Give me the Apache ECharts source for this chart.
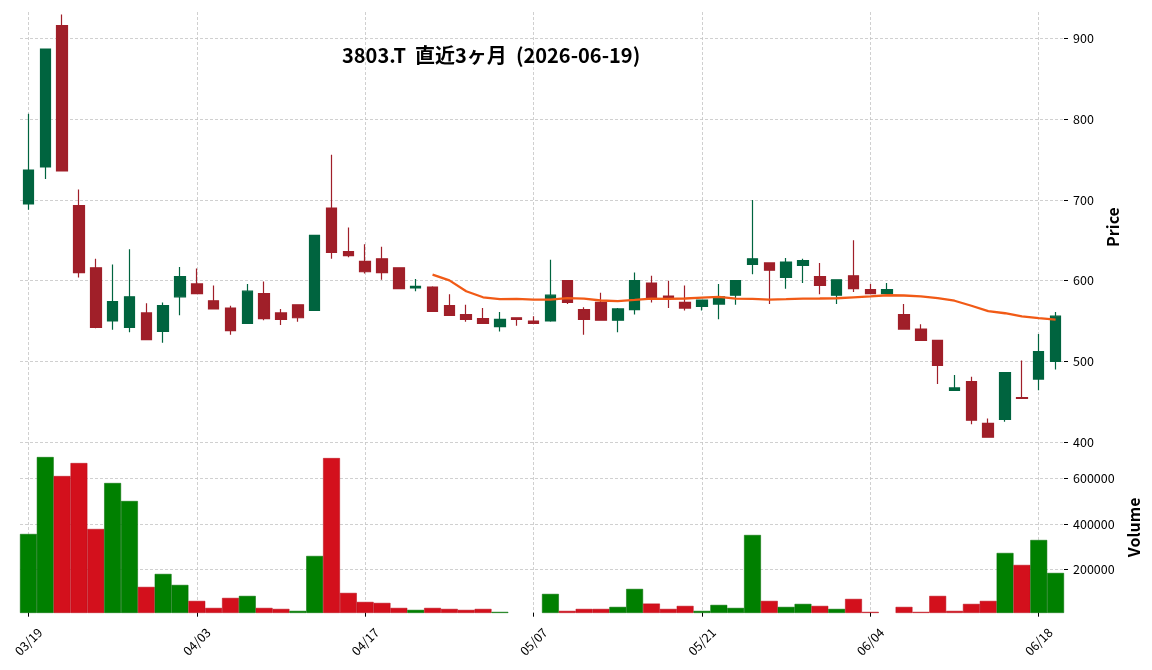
<!DOCTYPE html>
<html>
<head>
<meta charset="utf-8">
<title>3803.T</title>
<script src="https://cdn.jsdelivr.net/npm/echarts@6/dist/echarts.min.js"></script>
<style>
html, body { margin: 0; padding: 0; background: #fff; }
#main { width: 1152px; height: 670px; }
</style>
</head>
<body>
<div id="main"></div>
<script>
var dates = ['03/19','03/23','03/24','03/25','03/26','03/27','03/30','03/31','04/01','04/02',
  '04/03','04/06','04/07','04/08','04/09','04/10','04/13','04/14','04/15','04/16',
  '04/17','04/20','04/21','04/22','04/23','04/24','04/27','04/28','04/30','05/01',
  '05/07','05/08','05/11','05/12','05/13','05/14','05/15','05/18','05/19','05/20',
  '05/21','05/22','05/25','05/26','05/27','05/28','05/29','06/01','06/02','06/03',
  '06/04','06/05','06/08','06/09','06/10','06/11','06/12','06/15','06/16','06/17',
  '06/18','06/19'];
var opens = [695,741,916,693,616,550,542,560,537,580, 596,575,566,547,584,560,570,563,690,636,
  624,627,616,591,592,569,558,553,543,554, 550,550,600,564,573,551,564,597,581,573,
  568,571,582,620,622,604,619,605,582,606, 589,584,558,540,526,464,475,423,428,455, 478,500];
var highs = [807,887,930,713,627,620,639,572,573,617, 615,594,569,596,599,565,570,656,756,666,
  645,642,616,602,593,583,570,566,561,554, 556,626,600,567,585,566,610,606,600,594,
  576,596,600,700,622,628,627,622,601,650, 596,597,571,546,526,483,481,429,486,501, 534,561];
var lows = [688,726,736,604,541,539,536,526,523,557, 584,565,533,547,551,545,549,563,627,629,
  609,601,590,587,562,557,549,547,537,544, 547,549,571,533,551,536,558,573,566,563,
  563,552,570,608,571,590,597,583,571,586, 584,584,540,526,472,464,422,406,425,454, 464,490];
var closes = [737,887,736,610,542,574,580,527,569,605, 584,565,538,587,553,552,554,656,635,631,
  611,610,590,593,562,557,552,547,552,552, 547,582,573,552,551,565,600,579,578,566,
  576,580,600,627,613,623,625,594,601,590, 584,589,540,526,495,467,427,406,486,454, 512,556];
var volumes = [355300,693800,610200,667400,377300,579500,500300,122400,179500,131100,
  60800,30000,74000,82800,30000,25600,16900,258600,689300,96000,
  56400,52000,30000,21300,30000,25600,21300,25600,12500,5000,
  5000,91600,16900,25600,25600,34400,113600,49100,25600,38800,
  16900,43200,30000,350900,60800,34400,47600,38800,25600,69600,
  12500,5000,34400,12500,82800,16900,47600,60800,271800,219000,
  328900,183900];
// 25日移動平均
var ma25 = [null,null,null,null,null,null,null,null,null,null,
  null,null,null,null,null,null,null,null,null,null,
  null,null,null,null,607.5,600.3,586.9,579.4,577.0,577.4,
  576.4,576.4,578.3,577.6,575.4,574.7,576.1,577.7,577.4,577.9,
  578.9,579.9,577.7,577.4,576.6,577.1,577.7,577.9,578.2,579.3,
  580.4,581.9,581.6,580.6,578.3,575.1,568.9,562.2,559.6,555.7,
  553.6,551.8];
var priceTicks = [400,500,600,700,800,900];
var volTicks = [200000,400000,600000];

var upColor = '#00643f', downColor = '#a01f29';
var volUp = '#008000', volDown = '#d3101c';
var font = '"Noto Sans CJK JP", "Noto Sans", sans-serif';
var gridLine = { color: '#c4c4c4', type: [3, 2], width: 0.8 };

var candles = dates.map(function (d, i) {
  return [opens[i], closes[i], lows[i], highs[i]];
});
var vols = volumes.map(function (v, i) {
  var up = i === 0 ? closes[i] >= opens[i] : closes[i] >= closes[i - 1];
  return { value: v, itemStyle: { color: up ? volUp : volDown, borderColor: up ? '#006d00' : '#b80d18' } };
});

var chart = echarts.init(document.getElementById('main'));
chart.setOption({
  animation: false,
  backgroundColor: '#fff',
  title: {
    text: '3803.T  直近3ヶ月  (2026-06-19)',
    left: 342, top: 45, padding: 0,
    textStyle: { fontFamily: font, fontSize: 20, fontWeight: 'bold', color: '#000' }
  },
  grid: [
    { left: 20, right: 88, top: 12, height: 430 },
    { left: 20, right: 88, top: 442, height: 170.7 }
  ],
  xAxis: [
    {
      type: 'category', gridIndex: 0, data: dates,
      axisLine: { show: false }, axisTick: { show: false }, axisLabel: { show: false },
      splitLine: { show: true, interval: 9, alignWithLabel: true, lineStyle: gridLine }
    },
    {
      type: 'category', gridIndex: 1, data: dates,
      axisLine: { show: false },
      axisTick: { show: true, interval: 9, alignWithLabel: true, length: 4, lineStyle: { color: '#000' } },
      axisLabel: {
        interval: 9, rotate: 45, margin: 29, align: 'center', verticalAlign: 'middle',
        color: '#000', fontFamily: font, fontSize: 12.5
      },
      splitLine: { show: true, interval: 9, alignWithLabel: true, lineStyle: gridLine }
    }
  ],
  yAxis: [
    {
      type: 'value', gridIndex: 0, position: 'right', min: 400, max: 933, splitNumber: 5,
      name: 'Price', nameLocation: 'middle', nameGap: 33,
      nameTextStyle: { fontFamily: font, fontSize: 16, fontWeight: 'bold', color: '#000' },
      axisLine: { show: false },
      axisTick: { show: true, length: 4, customValues: priceTicks, lineStyle: { color: '#000' } },
      axisLabel: { customValues: priceTicks, margin: 9, color: '#000', fontFamily: font, fontSize: 12.5 },
      splitLine: { show: true, lineStyle: gridLine }
    },
    {
      type: 'value', gridIndex: 1, position: 'right', min: 9000, max: 760000, splitNumber: 4,
      name: 'Volume', nameLocation: 'middle', nameGap: 55,
      nameTextStyle: { fontFamily: font, fontSize: 16, fontWeight: 'bold', color: '#000' },
      axisLine: { show: false },
      axisTick: { show: true, length: 4, customValues: volTicks, lineStyle: { color: '#000' } },
      axisLabel: {
        customValues: volTicks, margin: 9, color: '#000', fontFamily: font, fontSize: 12.5,
        formatter: function (v) { return String(v); }
      },
      splitLine: { show: true, lineStyle: gridLine }
    }
  ],
  series: [
    {
      type: 'candlestick', xAxisIndex: 0, yAxisIndex: 0, data: candles, barWidth: 11,
      itemStyle: { color: upColor, color0: downColor, borderColor: upColor, borderColor0: downColor, borderWidth: 1.2 }
    },
    {
      type: 'line', xAxisIndex: 0, yAxisIndex: 0, data: ma25, showSymbol: false,
      lineStyle: { color: '#f15a16', width: 2.3 }, z: 3
    },
    {
      type: 'bar', xAxisIndex: 1, yAxisIndex: 1, data: vols, barCategoryGap: '0%',
      itemStyle: { borderWidth: 0.5 }
    }
  ]
});
window.addEventListener('resize', function () {
  chart.resize();
});
</script>
</body>
</html>
